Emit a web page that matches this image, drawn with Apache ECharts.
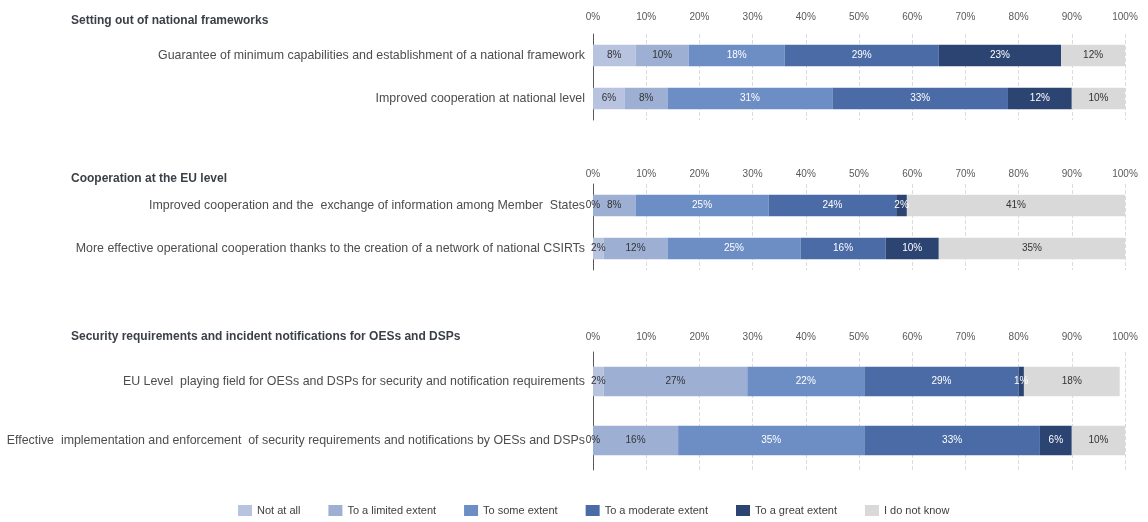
<!DOCTYPE html>
<html>
<head>
<meta charset="utf-8">
<script src="https://cdn.jsdelivr.net/npm/echarts@6/dist/echarts.min.js"></script>
<style>
html,body{margin:0;padding:0;background:#fff;}
#chart{width:1148px;height:522px;}
</style>
</head>
<body>
<div id="chart"></div>
<script>
const sectionTitles = [
  'Setting out of national frameworks',
  'Cooperation at the EU level',
  'Security requirements and incident notifications for OESs and DSPs'
];
const categories1 = [
  'Guarantee of minimum capabilities and establishment of a national framework',
  'Improved cooperation at national level'
];
const categories2 = [
  'Improved cooperation and the  exchange of information among Member  States',
  'More effective operational cooperation thanks to the creation of a network of national CSIRTs'
];
const categories3 = [
  'EU Level  playing field for OESs and DSPs for security and notification requirements',
  'Effective  implementation and enforcement  of security requirements and notifications by OESs and DSPs'
];
const seriesNames = ['Not at all', 'To a limited extent', 'To some extent', 'To a moderate extent', 'To a great extent', 'I do not know'];
// one value per row, rows in order of categories1, categories2, categories3
const notAtAll   = [8, 6, 0, 2, 2, 0];
const limited    = [10, 8, 8, 12, 27, 16];
const someExtent = [18, 31, 25, 25, 22, 35];
const moderate   = [29, 33, 24, 16, 29, 33];
const greatExtent= [23, 12, 2, 10, 1, 6];
const doNotKnow  = [12, 10, 41, 35, 18, 10];
const tickLabels = ['0%','10%','20%','30%','40%','50%','60%','70%','80%','90%','100%'];

const allValues = [notAtAll, limited, someExtent, moderate, greatExtent, doNotKnow];
const colors = ['#b8c3e0', '#9db0d4', '#6d8ec5', '#4a6ba6', '#2b4472', '#d9d9d9'];
const labelColors = ['#333333', '#333333', '#ffffff', '#ffffff', '#ffffff', '#333333'];
const categoriesList = [categories1, categories2, categories3];

const grids = [
  {left: 593, right: 23, top: 34, height: 86},
  {left: 593, right: 23, top: 184, height: 86},
  {left: 593, right: 23, top: 352, height: 118}
];
const tickMargins = [12, 5, 10];
const titleTops = [10, 168, 326];

const xAxes = grids.map((g, i) => ({
  type: 'value', gridIndex: i, position: 'top', min: 0, max: 100, interval: 10,
  axisLine: {show: false}, axisTick: {show: false},
  splitLine: {show: true, lineStyle: {color: '#dcdcdc', type: 'dashed', width: 1}},
  axisLabel: {formatter: v => tickLabels[Math.round(v / 10)], color: '#595959', fontSize: 10, fontFamily: 'Liberation Sans', margin: tickMargins[i]}
}));
const yAxes = grids.map((g, i) => ({
  type: 'category', gridIndex: i, inverse: true, data: categoriesList[i],
  axisLine: {show: true, lineStyle: {color: '#595959', width: 1}},
  axisTick: {show: false},
  axisLabel: {color: '#4d4d4d', fontSize: 12.4, fontFamily: 'Liberation Sans', margin: 8}
}));

const series = [];
grids.forEach((g, s) => {
  seriesNames.forEach((name, k) => {
    series.push({
      name: name, type: 'bar', stack: 'sec' + s, xAxisIndex: s, yAxisIndex: s,
      barWidth: '50%',
      data: allValues[k].slice(2 * s, 2 * s + 2),
      itemStyle: {color: colors[k]},
      label: {show: true, position: 'inside', formatter: p => p.value + '%', color: labelColors[k], fontSize: 10, fontFamily: 'Liberation Sans'}
    });
  });
});

const chart = echarts.init(document.getElementById('chart'), null, {renderer: 'canvas'});
chart.setOption({
  animation: false,
  backgroundColor: '#ffffff',
  title: sectionTitles.map((t, i) => ({
    text: t, left: 66, top: titleTops[i],
    textStyle: {fontSize: 12, fontWeight: 'bold', color: '#3b3f47', fontFamily: 'Liberation Sans'}
  })),
  legend: {
    data: seriesNames, left: 233, top: 500, itemWidth: 14, itemHeight: 11, itemGap: 28,
    icon: 'rect',
    textStyle: {fontSize: 11, color: '#404040', fontFamily: 'Liberation Sans'}
  },
  grid: grids,
  xAxis: xAxes,
  yAxis: yAxes,
  series: series
});
</script>
</body>
</html>
